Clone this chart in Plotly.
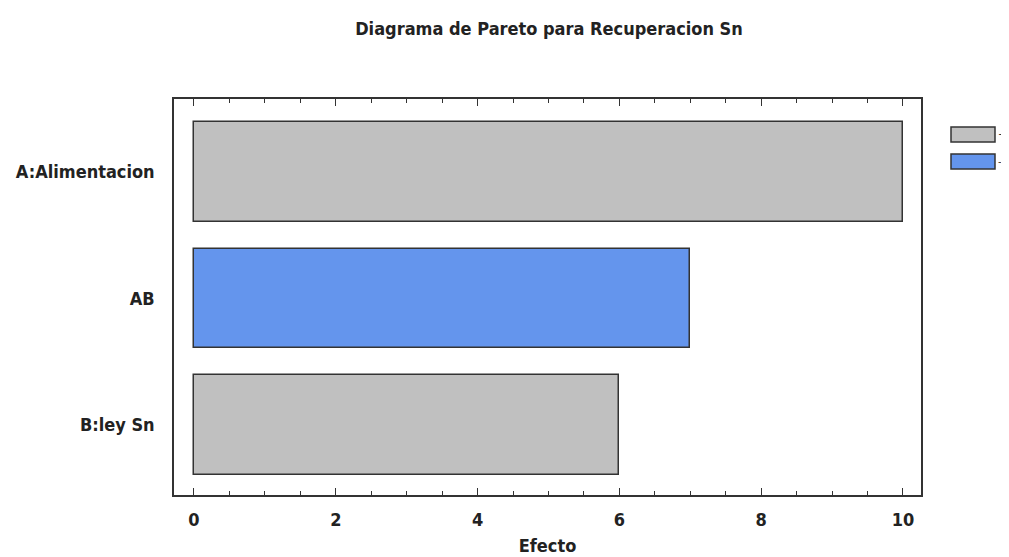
import plotly.graph_objects as go

categories = ["A:Alimentacion", "AB", "B:ley Sn"]
effects = [10.0, 7.0, 6.0]
signs = ["+", "-", "+"]
sign_colors = {"+": "#C0C0C0", "-": "#6495ED"}
x_ticks = [0, 2, 4, 6, 8, 10]

FONT = "DejaVu Sans Condensed, Liberation Sans Narrow, sans-serif"

# page body has ~8px margin; compensate so the plot frame lands where the reference has it
OX, OY = 7, 6
L, T, PW, PH = 173 - OX, 97 - OY, 747, 396

fig = go.Figure()
for s in ["+", "-"]:
    ys = [i for i, sg in enumerate(signs) if sg == s]
    xs = [effects[i] for i in ys]
    fig.add_trace(go.Bar(
        x=xs, y=ys, orientation="h", name=s, width=0.79,
        marker=dict(color=sign_colors[s], line=dict(color="#333333", width=1.5)),
        showlegend=False,
    ))

# legend boxes (drawn in paper coordinates)
for k, s in enumerate(["+", "-"]):
    y0 = 125 + k * 27
    fig.add_shape(type="rect", xref="paper", yref="paper",
                  x0=(950 - 173) / PW, x1=(994 - 173) / PW,
                  y0=(493 - y0) / PH, y1=(493 - (y0 + 15)) / PH,
                  fillcolor=sign_colors[s], line=dict(color="#333333", width=1.5))
    fig.add_annotation(text=s, xref="paper", yref="paper",
                       x=(995 - 173) / PW, y=(493 - (y0 + 7.5)) / PH,
                       xanchor="left", yanchor="middle", showarrow=False,
                       font=dict(family=FONT, size=11, color="#333333"))

fig.update_layout(
    width=1009, height=557,
    margin=dict(l=L, r=1009 - L - PW, t=T, b=557 - T - PH),
    paper_bgcolor="white", plot_bgcolor="white",
    title=dict(text="Diagrama de Pareto para Recuperacion Sn", x=(548 - OX) / 1009, xanchor="center",
               y=1 - (27 - OY) / 557, yanchor="middle",
               font=dict(family=FONT, size=18, color="#222222", weight="bold")),
    font=dict(family=FONT, color="#222222"),
    bargap=0,
)
fig.update_xaxes(
    range=[-0.282, 10.254], tickvals=x_ticks, ticks="inside", ticklen=7, tickwidth=1.3,
    tickcolor="#333333", showline=True, linecolor="#333333", linewidth=1.5, mirror="ticks",
    showgrid=False, zeroline=False, ticklabelstandoff=8, automargin=False,
    minor=dict(dtick=0.5, ticks="inside", ticklen=4, tickcolor="#333333", tickwidth=1),
    tickfont=dict(family=FONT, size=18, color="#222222", weight="bold"),
    title=dict(text="Efecto", standoff=10, font=dict(family=FONT, size=18, color="#222222", weight="bold")),
)
fig.update_yaxes(
    range=[2.553, -0.577], tickvals=list(range(len(categories))), ticktext=categories,
    ticks="", showline=True, linecolor="#333333", linewidth=1.5, mirror=True,
    showgrid=False, zeroline=False, ticklabelstandoff=14, automargin=False,
    tickfont=dict(family=FONT, size=18, color="#222222", weight="bold"),
)

fig.write_html("out.html")
